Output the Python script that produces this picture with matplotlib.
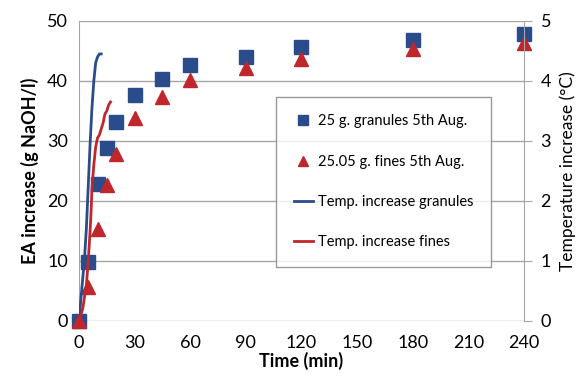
import matplotlib
matplotlib.use('Agg')
import matplotlib.pyplot as plt
from matplotlib.lines import Line2D

plt.rcParams['font.family'] = ['Lato', 'DejaVu Sans']

# EA increase data (left axis)
time_pts = [0, 5, 10, 15, 20, 30, 45, 60, 90, 120, 180, 240]
granules = [0, 9.8, 22.8, 28.8, 33.1, 37.6, 40.4, 42.7, 44.0, 45.7, 46.8, 47.8]
fines = [0, 5.7, 15.3, 22.7, 27.8, 33.8, 37.4, 40.2, 42.2, 43.7, 45.3, 46.3]

# temperature increase data (right axis)
t_gran = [0, 1, 2, 3, 4, 5, 6, 7, 8, 9, 10, 11, 12]
temp_gran = [0, 0.35, 0.7, 1.05, 1.55, 2.25, 2.95, 3.55, 4.0, 4.3, 4.4, 4.45, 4.45]
t_fine = [0, 2, 4, 5, 6, 6.5, 7, 8, 9, 10, 11, 12, 13, 14, 15, 16, 17]
temp_fine = [0, 0.2, 0.6, 1.0, 1.5, 1.8, 2.2, 2.6, 2.9, 3.05, 3.1, 3.2, 3.3, 3.45, 3.5, 3.6, 3.65]

blue = '#2B4C8A'
red = '#C0272D'
grey = '#A6A6A6'

fig = plt.figure(figsize=(5.79, 3.81), dpi=100)
ax = fig.add_axes([0.1364, 0.1575, 0.7686, 0.7875])
ax2 = ax.twinx()

ax.plot(time_pts, granules, 's', color=blue, markersize=9.5, zorder=3, clip_on=False)
ax.plot(time_pts, fines, '^', color=red, markersize=10, zorder=3, clip_on=False)
ax2.plot(t_gran, temp_gran, color=blue, lw=2)
ax2.plot(t_fine, temp_fine, color=red, lw=2)

ax.set_xlim(0, 240)
ax.set_ylim(0, 50)
ax2.set_ylim(0, 5)
ax.set_xticks(range(0, 241, 30))
ax.set_yticks(range(0, 51, 10))
ax2.set_yticks(range(0, 6))
for a in (ax, ax2):
    a.tick_params(labelsize=13, color=grey)
    for s in a.spines.values():
        s.set_visible(False)
ax.tick_params(axis='y', length=0, pad=8)
ax.tick_params(axis='x', length=0, pad=10)
ax2.tick_params(axis='y', length=6, pad=6)
ax.spines['left'].set_visible(True)
ax.spines['left'].set_color(grey)
ax2.spines['right'].set_visible(True)
ax2.spines['right'].set_color(grey)
ax.yaxis.grid(True, color=grey, lw=1)
ax.set_axisbelow(True)

ax.set_xlabel('Time (min)', fontsize=13, fontweight='bold', labelpad=1)
ax.set_ylabel('EA increase (g NaOH/l)', fontsize=13, fontweight='bold', labelpad=6)
ax2.set_ylabel('Temperature increase (°C)', fontsize=12.5, labelpad=6)

handles = [
    Line2D([], [], marker='s', ls='none', color=blue, markersize=7),
    Line2D([], [], marker='^', ls='none', color=red, markersize=7),
    Line2D([], [], color=blue, lw=2),
    Line2D([], [], color=red, lw=2),
]
labels = ['25 g. granules 5th Aug.', '25.05 g. fines 5th Aug.',
          'Temp. increase granules', 'Temp. increase fines']
leg = ax2.legend(handles, labels, loc='upper left', bbox_to_anchor=(0.443, 0.747),
                 fontsize=10.5, frameon=True, fancybox=False, edgecolor='#808080',
                 labelspacing=1.8, handlelength=1.3, handletextpad=0.35,
                 borderpad=1.2, borderaxespad=0)
leg.get_frame().set_linewidth(1)

fig.savefig('out.png', dpi=100)
